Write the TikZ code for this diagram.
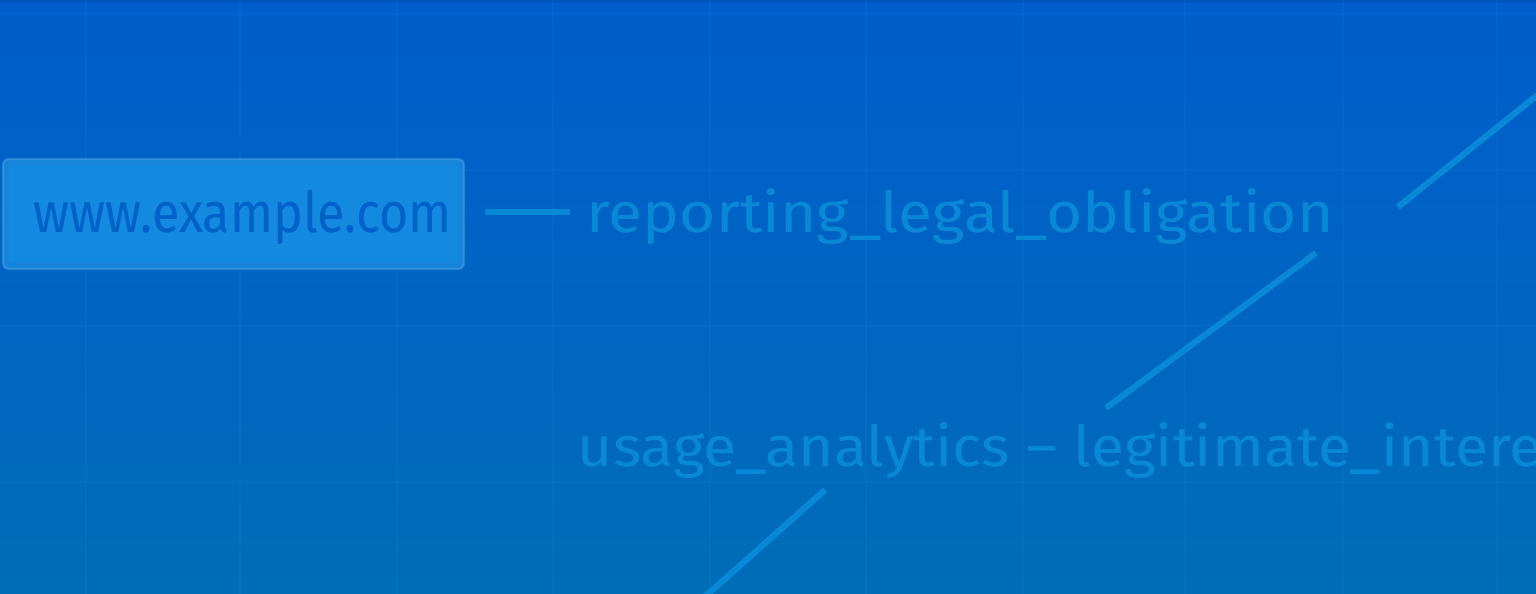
\documentclass[tikz,border=0pt]{standalone}
\usepackage{fontspec}
\setmainfont{Fira Sans}
\definecolor{bgtop}{HTML}{005DCC}
\definecolor{bgbot}{HTML}{006DB8}
\definecolor{ink}{HTML}{0A88D8}
\definecolor{boxfill}{HTML}{1389DF}
\definecolor{boxband}{HTML}{1684DA}
\definecolor{boxtext}{HTML}{0062C8}
\definecolor{gridc}{HTML}{2A8AE0}
\tikzset{
  lbl/.style={font=\fontsize{16pt}{19pt}\selectfont, text=ink, inner sep=0pt, anchor=base west},
  conn/.style={draw=ink, line width=1.75pt},
  gridline/.style={draw=gridc, line width=0.4pt, opacity=0.12},
}
\begin{document}
\begin{tikzpicture}[x=0.01cm,y=-0.01cm]
\useasboundingbox (0,0) rectangle (1536,594);
\begin{scope}
\clip (0,0) rectangle (1536,594);
\shade[top color=bgtop, bottom color=bgbot] (0,0) rectangle (1536,594);
\fill[bgtop!80!black, opacity=0.4] (0,0) rectangle (1536,3);
% grid
\foreach \gx in {86,240,397,553,710,866,1023,1185,1343,1497}
  \draw[gridline] (\gx,0) -- (\gx,594);
\foreach \gy in {14,170,326,482}
  \draw[gridline] (0,\gy) -- (1536,\gy);
% box
\path[fill=boxband, draw=boxfill!70!white, line width=0.6pt, rounded corners=1.5pt, draw opacity=0.4] (3,159) rectangle (464,269);
\fill[boxfill] (9,166) rectangle (458,262);
\node[lbl, text=boxtext] (site) at (33,232) {\scalebox{0.893}[1]{www.example.com}};
\coordinate (sitee) at (485,212);
\node[lbl] (rep) at (586,232) {\scalebox{1.106}[1]{reporting\_legal\_obligation}};
\coordinate (repw) at (570,212);
\draw[conn] (sitee) -- (repw);
% diagonal connectors
\coordinate (a1) at (1398,207);
\coordinate (a2) at (1560,77);
\draw[conn] (a1) -- (a2);
\coordinate (b1) at (1316,253);
\coordinate (b2) at (1106,408);
\draw[conn] (b1) -- (b2);
\node[lbl] (usage) at (577,466) {\scalebox{1.078}[1]{usage\_analytics – legitimate\_interest}};
\coordinate (c1) at (825,490);
\coordinate (c2) at (690,610);
\draw[conn] (c1) -- (c2);
\end{scope}
\end{tikzpicture}
\end{document}
